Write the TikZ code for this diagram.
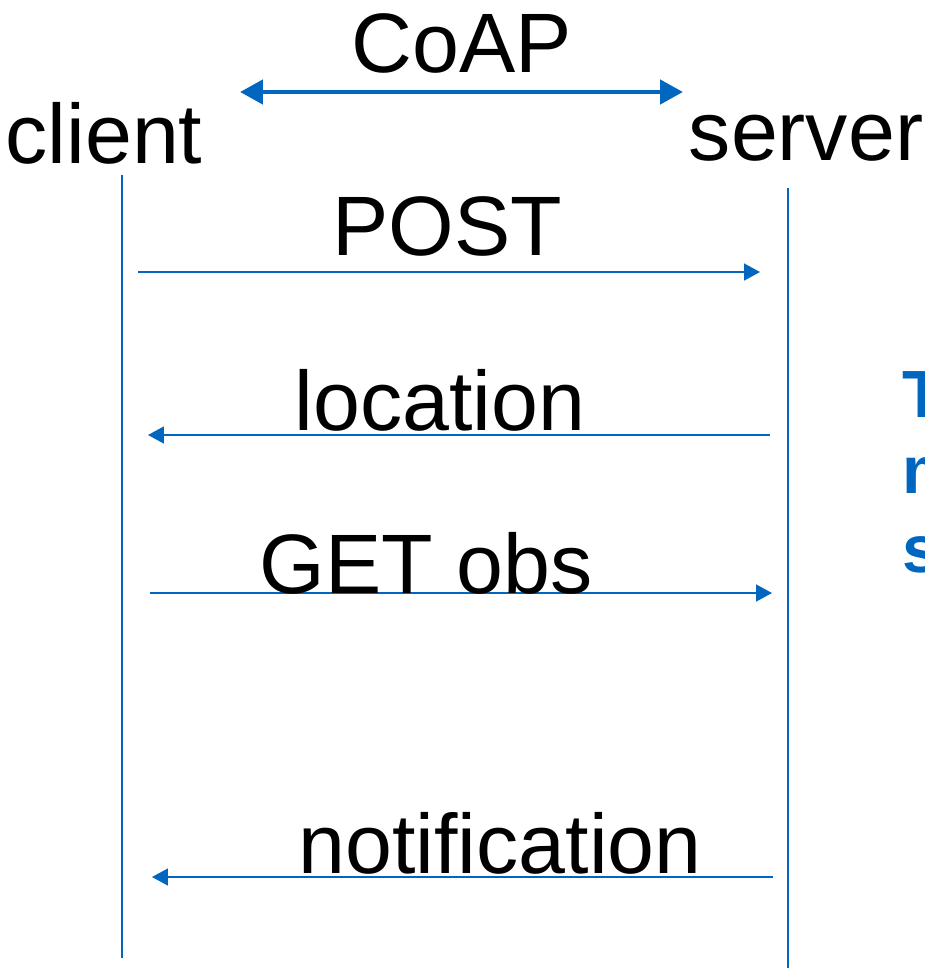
\documentclass[tikz,border=0pt]{standalone}
\usepackage{fontspec}
\setmainfont{Liberation Sans}
\usetikzlibrary{arrows.meta}
\definecolor{coapblue}{RGB}{0,102,192}
\tikzset{
  lifeline/.style={coapblue, line width=1.1pt},
  msg/.style={coapblue, line width=1.1pt, -{Triangle[length=9pt,width=9.5pt]}},
  proto/.style={coapblue, line width=2.8pt, {Triangle[length=13pt,width=13.5pt]}-{Triangle[length=13pt,width=13.5pt]}},
  lbl/.style={anchor=base, inner sep=0pt, font=\fontsize{48}{54}\selectfont},
  note/.style={anchor=base west, inner sep=0pt, text=coapblue, font=\fontsize{38}{44}\selectfont\bfseries}
}

\begin{document}
\begin{tikzpicture}[x=0.02cm,y=-0.02cm]
    \clip (0,0) rectangle (925,968);
    % lifelines
    \coordinate (cTop) at (122,175);
    \coordinate (cBot) at (122,958);
    \coordinate (sTop) at (788,188);
    \coordinate (sBot) at (788,968);
    \draw [lifeline] (cTop) -- (cBot);
    \draw [lifeline] (sTop) -- (sBot);
    % labels
    \node [lbl] (coap) at (462,72) {CoAP};
    \node [lbl] (client) at (104,163) {client};
    \node [lbl] (server) at (806,160) {server};
    \coordinate (pL) at (240,92);
    \coordinate (pR) at (683,92);
    \draw [proto] (pL) -- (pR);
    % messages
    \coordinate (postA) at (138,272);
    \coordinate (postB) at (760,272);
    \draw [msg] (postA) -- (postB);
    \node [lbl] (post) at (447,255) {POST};
    \coordinate (locA) at (770,435);
    \coordinate (locB) at (148,435);
    \draw [msg] (locA) -- (locB);
    \node [lbl] (loc) at (440,430) {location};
    \coordinate (getA) at (150,593);
    \coordinate (getB) at (772,593);
    \draw [msg] (getA) -- (getB);
    \node [lbl] (get) at (426,593) {GET obs};
    \coordinate (notA) at (773,877);
    \coordinate (notB) at (152,877);
    \draw [msg] (notA) -- (notB);
    \node [lbl] (notif) at (500,873) {notification};
    % side note, cut off at the edge
    \node [note] (n1) at (902,417) {T};
    \node [note] (n2) at (902,493) {m};
    \node [note] (n3) at (902,572) {s};
\end{tikzpicture}
\end{document}
